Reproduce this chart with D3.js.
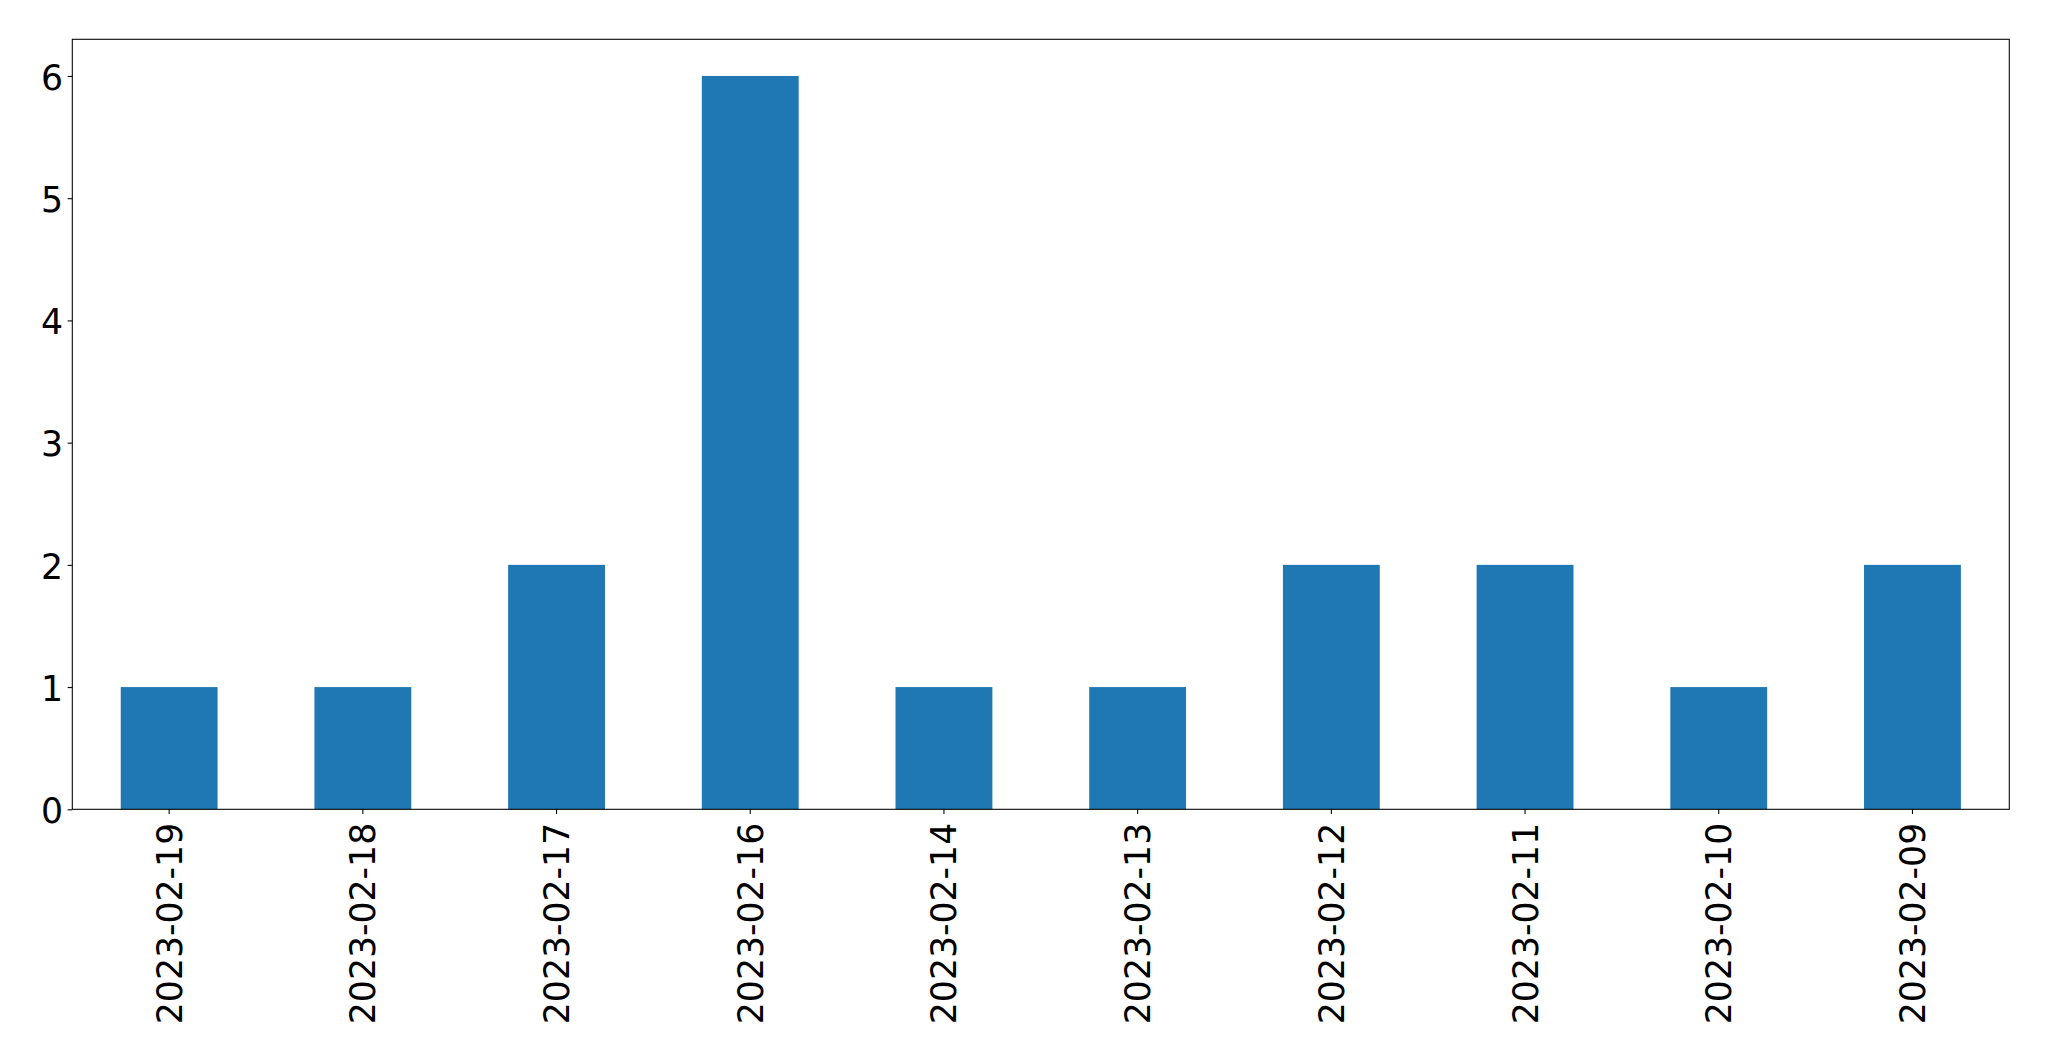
<!DOCTYPE html>
<html>
<head>
<meta charset="utf-8">
<script src="https://cdn.jsdelivr.net/npm/d3@7"></script>
<style>
html,body{margin:0;padding:0;background:#fff;}
svg{display:block;}
text{font-family:"DejaVu Sans",sans-serif;fill:#000;}
</style>
</head>
<body>
<script>
const categories = ["2023-02-19","2023-02-18","2023-02-17","2023-02-16","2023-02-14","2023-02-13","2023-02-12","2023-02-11","2023-02-10","2023-02-09"];
const values = [1,1,2,6,1,1,2,2,1,2];
const yTicks = [0,1,2,3,4,5,6];

const W = 2049, H = 1061;
const margin = {left:72.3, right:W-2009.3, top:39.3, bottom:H-809.3};
const iw = W - margin.left - margin.right;
const ih = H - margin.top - margin.bottom;
const FS = "34.67px";

const svg = d3.select("body").append("svg").attr("width",W).attr("height",H);
const g = svg.append("g").attr("transform",`translate(${margin.left},${margin.top})`);

const x = d3.scaleBand().domain(categories).range([0,iw]).paddingInner(0.5).paddingOuter(0.25);
const y = d3.scaleLinear().domain([0,6.3]).range([ih,0]);

g.selectAll("rect.bar").data(categories).join("rect")
  .attr("class","bar")
  .attr("x",d=>x(d))
  .attr("width",x.bandwidth())
  .attr("y",(d,i)=>y(values[i]))
  .attr("height",(d,i)=>y(0)-y(values[i]))
  .attr("fill","#1f77b4");

// y axis
const yAxis = g.append("g").call(d3.axisLeft(y).tickValues(yTicks).tickFormat(d3.format("d")).tickSizeInner(4.67).tickSizeOuter(0).tickPadding(4.67));
yAxis.select(".domain").remove();
yAxis.selectAll("line").attr("stroke","#000").attr("stroke-width",1.07);
yAxis.selectAll("text").attr("font-size",FS).attr("font-family","DejaVu Sans").attr("dy","0.38em");

// x axis
const xAxis = g.append("g").attr("transform",`translate(0,${ih})`)
  .call(d3.axisBottom(x).tickSizeInner(4.67).tickSizeOuter(0).tickPadding(0));
xAxis.select(".domain").remove();
xAxis.selectAll("line").attr("stroke","#000").attr("stroke-width",1.07);
xAxis.selectAll("text")
  .attr("font-size",FS).attr("font-family","DejaVu Sans")
  .attr("text-anchor","end")
  .attr("transform","rotate(-90)")
  .attr("x",-13.5).attr("y",0).attr("dy","0.36em");

// frame
g.append("rect").attr("x",0).attr("y",0).attr("width",iw).attr("height",ih)
  .attr("fill","none").attr("stroke","#000").attr("stroke-width",1.07);
</script>
</body>
</html>
